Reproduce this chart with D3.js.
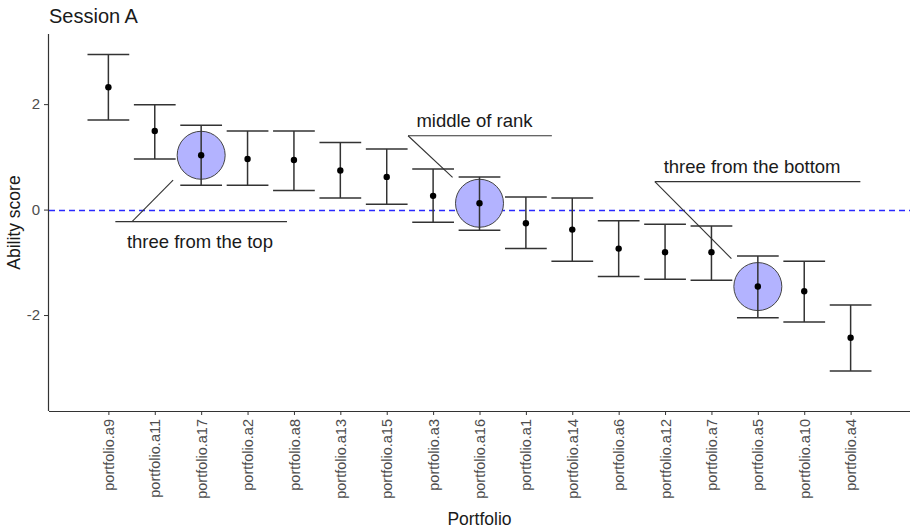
<!DOCTYPE html>
<html>
<head>
<meta charset="utf-8">
<title>Session A</title>
<script src="https://cdn.jsdelivr.net/npm/d3@7"></script>
<style>
body { margin: 0; background: #fff; }
text { font-family: "Liberation Sans", Arial, sans-serif; }
.tick text { fill: #4d4d4d; }
</style>
</head>
<body>
<script>

// portfolios ordered by ability score
var portfolios = ["portfolio.a9","portfolio.a11","portfolio.a17","portfolio.a2","portfolio.a8",
  "portfolio.a13","portfolio.a15","portfolio.a3","portfolio.a16","portfolio.a1","portfolio.a14",
  "portfolio.a6","portfolio.a12","portfolio.a7","portfolio.a5","portfolio.a10","portfolio.a4"];
var scores = [2.32, 1.49, 1.03, 0.96, 0.94, 0.74, 0.62, 0.26, 0.12, -0.26, -0.38,
  -0.74, -0.81, -0.81, -1.46, -1.55, -2.43];
var upper = [2.94, 1.99, 1.60, 1.49, 1.49, 1.27, 1.15, 0.77, 0.62, 0.24, 0.22,
  -0.21, -0.28, -0.31, -0.88, -0.98, -1.81];
var lower = [1.70, 0.96, 0.46, 0.46, 0.36, 0.22, 0.10, -0.24, -0.39, -0.74, -0.98,
  -1.27, -1.32, -1.34, -2.05, -2.13, -3.06];
var yTicks = [-2, 0, 2];

// highlighted portfolios and their callouts (positions in category / score units)
var highlights = ["portfolio.a17", "portfolio.a16", "portfolio.a5"];
var notes = [
  {label: "three from the top",    at: "portfolio.a17", x0: -1.85, x1: 1.85, y: -0.23, tx: -1.6,  ty: -0.73, ex: -0.605, ey: 0.56},
  {label: "middle of rank",        at: "portfolio.a16", x0: -1.54, x1: 1.56, y: 1.40,  tx: -1.36, ty: 1.56,  ex: -0.58, ey: 0.61},
  {label: "three from the bottom", at: "portfolio.a5",  x0: -2.22, x1: 2.21, y: 0.53,  tx: -2.03, ty: 0.69,  ex: -0.57, ey: -0.93}
];

var data = portfolios.map(function(p, i){
  return {name: p, score: scores[i], hi: upper[i], lo: lower[i]};
});

var width = 911, height = 530;
var svg = d3.select("body").append("svg").attr("width", width).attr("height", height);

var x = d3.scalePoint().domain(portfolios).range([49, 910]).padding(1.28);
var y = d3.scaleLinear().domain([-3.82, 3.33]).range([411, 34]);
var step = x.step();
var xi = function(name, off){ return x(name) + off * step; };

// zero reference line (snapped to a pixel row so it stays crisp blue)
var y0 = Math.round(y(0)) + 0.5;
svg.append("line")
  .attr("x1", 49).attr("x2", 910)
  .attr("y1", y0).attr("y2", y0)
  .attr("stroke", "#2a2aff").attr("stroke-width", 1.3)
  .attr("stroke-dasharray", "6,4");

// highlight circles
svg.selectAll(".hl").data(data.filter(d => highlights.indexOf(d.name) >= 0))
  .enter().append("circle").attr("class", "hl")
  .attr("cx", d => x(d.name)).attr("cy", d => y(d.score))
  .attr("r", 24)
  .attr("fill", "#b3b3ff").attr("stroke", "#444").attr("stroke-width", 1);

// error bars
var bars = svg.selectAll(".bar").data(data).enter().append("g").attr("class", "bar")
  .attr("stroke", "#333").attr("stroke-width", 1.5);
bars.append("line")
  .attr("x1", d => x(d.name)).attr("x2", d => x(d.name))
  .attr("y1", d => y(d.hi)).attr("y2", d => y(d.lo));
bars.append("line")
  .attr("x1", d => x(d.name) - step * 0.45).attr("x2", d => x(d.name) + step * 0.45)
  .attr("y1", d => y(d.hi)).attr("y2", d => y(d.hi));
bars.append("line")
  .attr("x1", d => x(d.name) - step * 0.45).attr("x2", d => x(d.name) + step * 0.45)
  .attr("y1", d => y(d.lo)).attr("y2", d => y(d.lo));

svg.selectAll(".pt").data(data).enter().append("circle").attr("class", "pt")
  .attr("cx", d => x(d.name)).attr("cy", d => y(d.score))
  .attr("r", 3.2).attr("fill", "#000");

// callouts
var ann = svg.selectAll(".note").data(notes).enter().append("g").attr("class", "note");
ann.append("line")
  .attr("x1", d => xi(d.at, d.x0)).attr("x2", d => xi(d.at, d.x1))
  .attr("y1", d => y(d.y)).attr("y2", d => y(d.y))
  .attr("stroke", "#333").attr("stroke-width", 1.2);
ann.append("line")
  .attr("x1", d => xi(d.at, d.x0) + (d.label == "three from the top" ? 0.36 * step : 0))
  .attr("x2", d => xi(d.at, d.ex))
  .attr("y1", d => y(d.y)).attr("y2", d => y(d.ey))
  .attr("stroke", "#333").attr("stroke-width", 1.1);
ann.append("text")
  .attr("x", d => xi(d.at, d.tx)).attr("y", d => y(d.ty))
  .attr("font-size", 18.5).attr("fill", "#1a1a1a")
  .text(d => d.label);

// axes
var xAxis = svg.append("g").attr("transform", "translate(0,411)")
  .call(d3.axisBottom(x).tickSize(4).tickPadding(3));
xAxis.select(".domain").attr("d", "M49,0.5H910").attr("stroke", "#333").attr("stroke-width", 1.2);
xAxis.selectAll(".tick line").attr("stroke", "#333");
xAxis.selectAll(".tick text")
  .attr("font-size", 14.5)
  .attr("transform", "rotate(-90)")
  .attr("text-anchor", "end")
  .attr("x", -8).attr("y", 0).attr("dy", "0.35em");

var yAxis = svg.append("g").attr("transform", "translate(49,0)")
  .call(d3.axisLeft(y).tickValues(yTicks).tickSize(5).tickPadding(4).tickFormat(d => String(d)));
yAxis.select(".domain").attr("d", "M-0.5,34V411").attr("stroke", "#333").attr("stroke-width", 1.2);
yAxis.selectAll(".tick line").attr("stroke", "#333");
yAxis.selectAll(".tick text").attr("font-size", 15);

// titles
svg.append("text").attr("x", 49).attr("y", 23)
  .attr("font-size", 20).attr("fill", "#1a1a1a").text("Session A");
svg.append("text").attr("x", 479.5).attr("y", 525)
  .attr("text-anchor", "middle").attr("font-size", 17.5).attr("fill", "#1a1a1a").text("Portfolio");
svg.append("text").attr("transform", "translate(20,222.5) rotate(-90)")
  .attr("text-anchor", "middle").attr("font-size", 17.5).attr("fill", "#1a1a1a").text("Ability score");

</script>
</body>
</html>
